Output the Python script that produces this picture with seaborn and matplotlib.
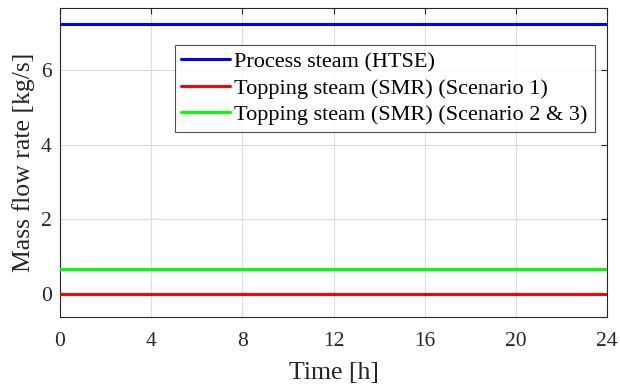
import numpy as np
import pandas as pd
import matplotlib
matplotlib.use("Agg")
import matplotlib.pyplot as plt
import seaborn as sns

time_h = [0, 24]
process_steam_htse = [7.25, 7.25]
topping_steam_s1 = [0.0, 0.0]
topping_steam_s23 = [0.68, 0.68]
series_names = ["Process steam (HTSE)", "Topping steam (SMR) (Scenario 1)",
                "Topping steam (SMR) (Scenario 2 & 3)"]
colors = ["#0000ff", "#ff0000", "#00ff00"]
x_ticks = [0, 4, 8, 12, 16, 20, 24]
y_ticks = [0, 2, 4, 6]

sns.set_style("white")
plt.rcParams['font.family'] = ['Liberation Serif', 'DejaVu Serif']
plt.rcParams['mathtext.fontset'] = 'stix'

df = pd.DataFrame({
    "t": time_h * 3,
    "v": process_steam_htse + topping_steam_s1 + topping_steam_s23,
    "s": [series_names[0]] * 2 + [series_names[1]] * 2 + [series_names[2]] * 2,
})

fig = plt.figure(figsize=(6.2, 3.86), dpi=100)
ax = fig.add_axes([60 / 620, 1 - 317 / 386, 547 / 620, 309 / 386])
sns.lineplot(data=df, x="t", y="v", hue="s", hue_order=series_names,
             palette=colors, linewidth=2.2, ax=ax, zorder=3)

ax.set_xlim(0, 24)
ax.set_ylim(-0.62, 7.67)
ax.set_xticks(x_ticks)
ax.set_yticks(y_ticks)
ax.grid(True, color="#dcdcdc", linewidth=0.8)
ax.set_axisbelow(True)
ax.tick_params(direction="in", length=4, width=0.8, labelsize=15.5, colors="#262626",
               top=True, right=True)
ax.tick_params(axis="x", pad=11)
ax.tick_params(axis="y", pad=6)
for sp in ax.spines.values():
    sp.set_color("#262626")
    sp.set_linewidth(0.8)
ax.set_xlabel("Time [h]", fontsize=18.5, color="#262626", labelpad=8)
ax.set_ylabel("Mass flow rate [kg/s]", fontsize=18.5, color="#262626", labelpad=4)

leg = ax.legend(loc="upper left", bbox_to_anchor=(114.5 / 547, (317 - 45) / 309),
                fontsize=16, frameon=True, fancybox=False, edgecolor="#262626",
                handlelength=2.2, handletextpad=0.2, borderpad=0.3, labelspacing=0.26,
                borderaxespad=0)
leg.get_frame().set_linewidth(0.8)
for t in leg.get_texts():
    t.set_color("black")

fig.savefig("out.png", dpi=100, facecolor="white")
